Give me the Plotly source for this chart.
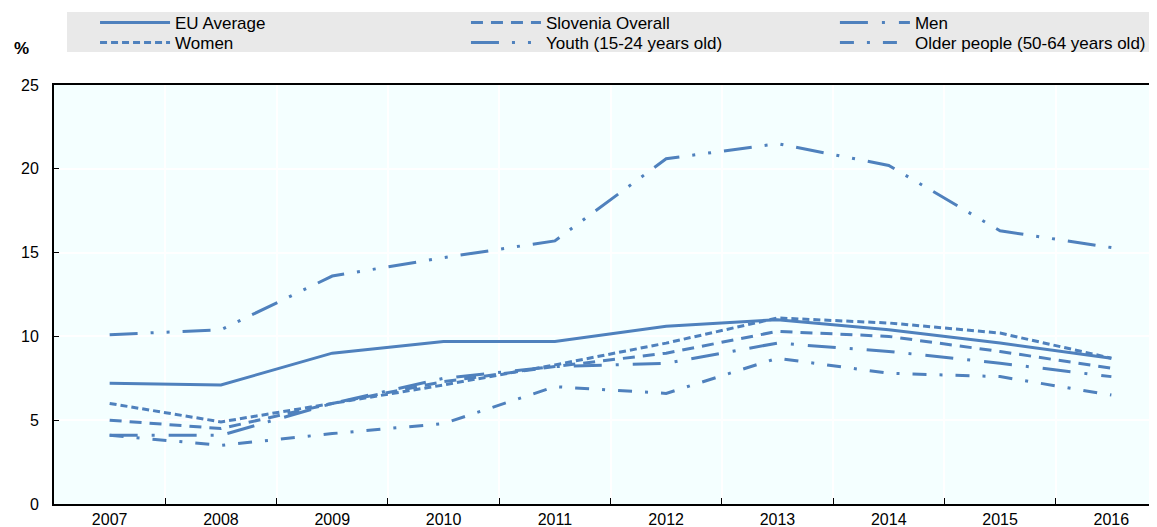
import plotly.graph_objects as go

years = ['2007', '2008', '2009', '2010', '2011', '2012', '2013', '2014', '2015', '2016']

eu_average = [7.2, 7.1, 9.0, 9.7, 9.7, 10.6, 11.0, 10.4, 9.6, 8.7]
slovenia = [5.0, 4.5, 6.0, 7.3, 8.2, 9.0, 10.3, 10.0, 9.1, 8.1]
men = [4.1, 4.1, 6.0, 7.5, 8.2, 8.4, 9.6, 9.1, 8.4, 7.6]
women = [6.0, 4.9, 6.0, 7.1, 8.3, 9.6, 11.1, 10.8, 10.2, 8.7]
youth = [10.1, 10.4, 13.6, 14.7, 15.7, 20.6, 21.5, 20.2, 16.3, 15.3]
older = [4.1, 3.5, 4.2, 4.8, 7.0, 6.6, 8.7, 7.8, 7.6, 6.5]

blue = '#4f81bd'
font = 'Liberation Sans, Arial, sans-serif'

fig = go.Figure()

# (name, values, dash, legend id, legend x, legend y) - one legend per entry
series = [
    ('EU Average', eu_average, 'solid', 'legend', 0.0372, 1.1909),
    ('Slovenia Overall', slovenia, '12px,8px', 'legend2', 0.3735, 1.1909),
    ('Men', men, '28px,14px,3px,14px', 'legend3', 0.708, 1.1909),
    ('Women', women, '7px,4px', 'legend4', 0.0372, 1.1432),
    ('Youth (15-24 years old)', youth, '28px,13px,3px,13px,3px,13px', 'legend5', 0.3735, 1.1432),
    ('Older people (50-64 years old)', older, '14px,13px,3px,13px', 'legend6', 0.708, 1.1432),
]

legends = {}
for name, vals, dash, leg, lx, ly in series:
    fig.add_trace(go.Scatter(
        x=years, y=vals, name=name, mode='lines',
        line=dict(color=blue, width=3, dash=dash),
        legend=leg, showlegend=True
    ))
    legends[leg] = dict(orientation='v', x=lx, y=ly, xanchor='left', yanchor='top',
                        bgcolor='rgba(0,0,0,0)', itemwidth=70,
                        font=dict(family=font, size=17, color='black'))

# page body has an 8px margin, so the figure is 8px smaller than the window
fig.update_layout(
    width=1149, height=519,
    margin=dict(l=46, r=0, t=77, b=23, autoexpand=False),
    paper_bgcolor='white',
    plot_bgcolor='#f4ffff',
    font=dict(family=font, size=16, color='black'),
    shapes=[dict(type='rect', xref='paper', yref='paper',
                 x0=0.0118, x1=1.0, y0=1.0788, y1=1.1742,
                 fillcolor='#e9e9e9', line=dict(width=0), layer='below')],
    annotations=[dict(text='<b>%</b>', xref='paper', yref='paper',
                      x=-0.0299, y=1.0883, showarrow=False,
                      xanchor='center', yanchor='middle',
                      font=dict(family=font, size=17, color='black'))],
    **legends
)

fig.update_xaxes(
    type='category', range=[-0.5, 9.41],
    tickson='boundaries', ticks='inside', ticklen=6, tickcolor='black',
    showgrid=True, gridcolor='white', gridwidth=2,
    showline=True, linecolor='black', linewidth=2, mirror=True,
    tickfont=dict(family=font, size=16, color='black')
)
fig.update_yaxes(
    range=[0, 25], dtick=5, ticks='inside', ticklen=5, tickcolor='black',
    showgrid=True, gridcolor='white', gridwidth=2, zeroline=False,
    showline=True, linecolor='black', linewidth=2,
    ticklabelstandoff=10,
    tickfont=dict(family=font, size=16, color='black')
)

fig.write_html("out.html")
